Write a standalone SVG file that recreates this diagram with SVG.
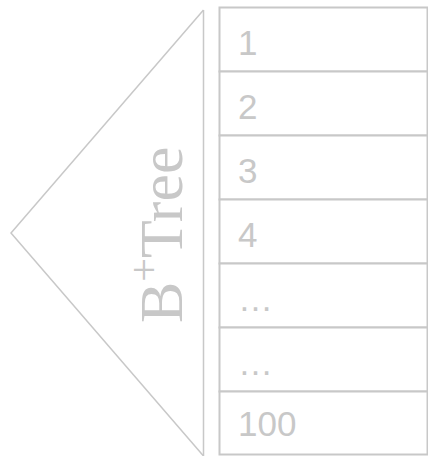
<svg xmlns="http://www.w3.org/2000/svg" width="428" height="456" viewBox="0 0 428 456">
<style>
.ln{fill:none;stroke:#c8c8c8;stroke-width:1.5}
.cell{fill:#fff;stroke:#c8c8c8;stroke-width:2}
.t{font-family:"Liberation Sans",Arial,sans-serif;font-size:35px;fill:#c8c8c8}
.bt{font-family:"Liberation Serif","Times New Roman",serif;font-size:62px;fill:#c8c8c8}
</style>
<rect width="428" height="456" fill="#fff"/>
<g id="tree">
<polyline class="ln" points="203.5,10 11,233 203.5,456"/>
<line class="ln" x1="203.5" y1="10" x2="203.5" y2="456"/>
<text class="bt" transform="translate(182,323) rotate(-90)">B<tspan font-size="42" dy="-24">+</tspan><tspan dy="24">Tree</tspan></text>
</g>
<g id="table">
<rect class="cell" x="219.5" y="7.5" width="208" height="64"/>
<rect class="cell" x="219.5" y="71.5" width="208" height="64"/>
<rect class="cell" x="219.5" y="135.5" width="208" height="64"/>
<rect class="cell" x="219.5" y="199.5" width="208" height="64"/>
<rect class="cell" x="219.5" y="263.5" width="208" height="64"/>
<rect class="cell" x="219.5" y="327.5" width="208" height="64"/>
<rect class="cell" x="219.5" y="391.5" width="208" height="63"/>
<text class="t" x="238" y="55">1</text>
<text class="t" x="238" y="119">2</text>
<text class="t" x="238" y="183">3</text>
<text class="t" x="238" y="247">4</text>
<text class="t" x="238" y="311">…</text>
<text class="t" x="238" y="375">…</text>
<text class="t" x="238" y="436">100</text>
</g>
</svg>
